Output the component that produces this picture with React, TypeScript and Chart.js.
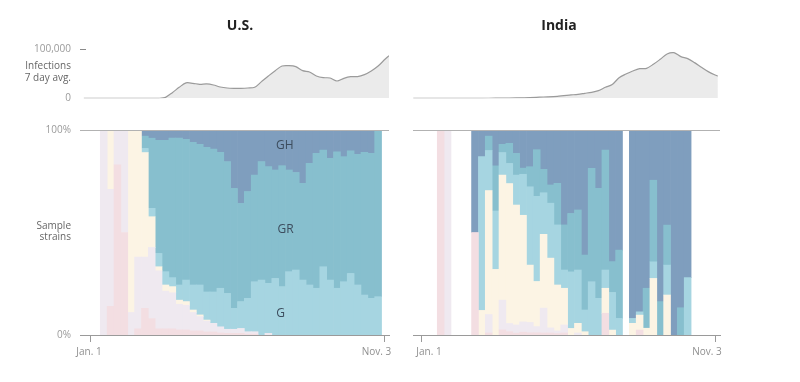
import React, { useEffect, useRef } from "react";
import { Chart, registerables } from "chart.js";

Chart.register(...registerables);

const FONT = "'Open Sans', 'DejaVu Sans', sans-serif";

// ---------- strain (clade) data: weekly share of samples, % ----------
const CLADES = ["S", "L", "V", "G", "GR", "GH"];
const CLADE_COLORS = ["#f3dee2", "#efe9f0", "#fcf4e4", "#a6d5e1", "#87bfce", "#7f9ebe"];

const US_WEEKS = [2, 3, 4, 5, 6, 7, 8, 9, 10, 11, 12, 13, 14, 15, 16, 17, 18, 19, 20, 21, 22, 23, 24, 25, 26, 27, 28, 29, 30, 31, 32, 33, 34, 35, 36, 37, 38, 39, 40, 41, 42];
const US_S = [0, 14, 83, 50, 0, 3, 13, 8, 3, 3, 3, 2.5, 2.5, 2, 2, 1.5, 1.5, 1, 0.8, 0.8, 0.8, 0.4, 0.4, 0, 0, 0, 0, 0, 0, 0, 0, 0, 0, 0, 0, 0, 0, 0, 0, 0, 0];
const US_L = [100, 57, 17, 50, 11, 35, 25, 34.7, 28.3, 18.4, 17.6, 12.5, 12, 9, 7, 5.3, 4.2, 3, 2, 2, 2.4, 1.2, 1.2, 0, 0.8, 0, 0, 0, 0, 0, 0, 0, 0, 0, 0, 0, 0, 0, 0, 0, 0];
const US_V = [0, 29, 0, 0, 89, 62, 51, 15, 2, 3, 3, 2, 1.8, 1.2, 0.8, 0.5, 0, 0, 0, 0, 0, 0, 0, 0, 0, 0, 0, 0, 0, 0, 0, 0, 0, 0, 0, 0, 0, 0, 0, 0, 0];
const US_G = [0, 0, 0, 0, 0, 0, 2, 4.1, 6.5, 6.5, 4.4, 7.4, 10.5, 12.2, 14.6, 13.7, 15.3, 18.8, 17.5, 10.2, 13.1, 16.3, 24.4, 26.8, 24.4, 27.6, 23.6, 30.9, 31.7, 26.8, 24.4, 22.8, 33.3, 26.8, 22.8, 26, 30, 24.4, 19.5, 17.9, 18.7];
const US_GR = [0, 0, 0, 0, 0, 0, 6, 34.2, 55.2, 64.1, 68, 71.6, 68.7, 69.6, 68.6, 70.5, 69.7, 66.3, 64.3, 58.5, 47.9, 52.1, 52, 57.8, 56.9, 52.9, 59, 49.6, 47.6, 47.2, 59.3, 65.8, 56.9, 59.4, 66.6, 61, 59.8, 63.7, 69.6, 70.7, 81.3];
const US_GH = [0, 0, 0, 0, 0, 0, 3, 4, 5, 5, 4, 4, 4.5, 6, 7, 8.5, 9.3, 10.9, 15.4, 28.5, 35.8, 30, 22, 15.4, 17.9, 19.5, 17.4, 19.5, 20.7, 26, 16.3, 11.4, 9.8, 13.8, 10.6, 13, 10.2, 11.9, 10.9, 11.4, 0];

const IN_WEEKS = [3, 4, 5, 6, 7, 8, 9, 10, 11, 12, 13, 14, 15, 16, 17, 18, 19, 20, 21, 22, 23, 24, 25, 26, 27, 28, 29, 30, 31, 32, 33, 34, 35, 36, 37, 38, 39];
const IN_S = [100, 0, null, null, null, 50, 0, 1, 0, 2.5, 1.6, 0.9, 1.4, 1.1, 1.1, 1, 1, 0.7, 1, 0, 0, 0, 0, 0, 10.6, 0, 0, null, 0, 2.4, 0, 0, 0, 0, 0, 0, 0];
const IN_L = [0, 100, null, null, null, 0, 0, 9, 0, 14.5, 4, 4, 5, 5, 3, 12.1, 2.5, 1.3, 3.9, 0, 1, 0, 0, 0, 0, 0, 0, null, 0, 0, 0, 0, 0, 0, 0, 0, 0];
const IN_V = [0, 0, null, null, null, 0, 12, 60.5, 32, 61, 68.3, 58.5, 52, 28, 22, 36, 34, 22.4, 17.9, 3.2, 4.7, 1.6, 0, 0, 12.2, 2.4, 0, null, 5.7, 7.3, 3.3, 27.6, 0, 19.5, 0, 0, 0];
const IN_G = [0, 0, null, null, null, 0, 75, 19.5, 28.5, 11, 9.8, 14.6, 20, 38.2, 41.5, 20.3, 26.8, 29.3, 8.9, 27.6, 26, 10.6, 26, 17.9, 8.9, 18.4, 8.1, null, 2.4, 1.6, 0, 8.1, 0, 14.6, 0, 0, 28];
const IN_GR = [0, 0, null, null, null, 0, 0, 7, 22, 4, 9.8, 10.6, 3, 9.8, 22.8, 11.4, 8.9, 20.3, 22, 28.5, 29.3, 26.8, 55.3, 53.7, 58.5, 15, 33.3, null, 0, 0, 19.5, 39.8, 16.3, 19.5, 0, 13.3, 0];
const IN_GH = [0, 0, null, null, null, 50, 13, 3, 17.5, 7, 6.5, 11.4, 20, 17.9, 9.8, 18.7, 26.8, 26, 46.3, 40.7, 39, 61, 18.7, 28.5, 9.8, 64.2, 58.5, null, 91.9, 88.7, 77.2, 24.5, 83.7, 46.4, 100, 86.7, 72];

// ---------- infections, 7 day average ----------
const US_INF_WEEKS = [-0.9, 0, 1, 2, 3, 4, 5, 6, 7, 8, 9, 10, 11, 12, 13, 14, 15, 16, 17, 18, 19, 20, 21, 22, 23, 24, 25, 26, 27, 28, 29, 30, 31, 32, 33, 34, 35, 36, 37, 38, 39, 40, 41, 42, 43, 43.6];
const US_INF = [0, 0, 0, 0, 0, 0, 0, 0, 0, 0, 0, 0, 2000, 11500, 22400, 31500, 30600, 28600, 29300, 27100, 23000, 21000, 20400, 20400, 21000, 22400, 34000, 45500, 56400, 65900, 66600, 64600, 56400, 53700, 45500, 42100, 41500, 35300, 40800, 44200, 44200, 48300, 55800, 65900, 79600, 87000];
const IN_INF_WEEKS = [-1, 0, 2, 4, 6, 8, 10, 12, 14, 16, 18, 20, 22, 23, 24, 25, 26, 27, 28, 29, 30, 31, 32, 33, 34, 35, 36, 37, 38, 39, 40, 41, 42, 43, 43.4];
const IN_INF = [0, 0, 0, 0, 0, 0, 100, 300, 700, 1400, 2700, 4000, 6800, 8200, 10200, 12200, 15600, 22400, 28000, 42000, 49600, 55800, 60500, 61200, 69400, 79600, 90500, 93100, 85000, 81000, 72800, 63300, 54400, 47600, 45500];

// ---------- ticks / labels ----------
const AXIS_TICK_WEEKS = [0, 42.86];
const AXIS_TICK_LABELS = ["Jan. 1", "Nov. 3"];
const INF_TICKS = [0, 100000];
const INF_TICK_LABELS = ["0", "100,000"];
const SHARE_TICKS = [0, 100];
const SHARE_TICK_LABELS = ["0%", "100%"];
const US_CLADE_LABELS = ["GH", "GR", "G"];
const US_CLADE_LABEL_WEEKS = [28.4, 28.5, 27.8];
const US_CLADE_LABEL_PCT = [92.2, 51.2, 10.4];

const PX_PER_WEEK = 6.86;

type PanelCfg = {
  title: string;
  titleX: number;
  left: number;
  axisLeft: number;
  axisRight: number;
  jan1: number;
  jan1Week: number;
  weeks: number[];
  shares: (number | null)[][];
  infWeeks: number[];
  inf: number[];
  showY: boolean;
  tickLabelPx: number[];
  cladeLabels: boolean;
};

const PANELS: PanelCfg[] = [
  {
    title: "U.S.", titleX: 240, left: 0, axisLeft: 80, axisRight: 389, jan1: 90, jan1Week: 0,
    weeks: US_WEEKS, shares: [US_S, US_L, US_V, US_G, US_GR, US_GH],
    infWeeks: US_INF_WEEKS, inf: US_INF, showY: true, tickLabelPx: [89, 376.5], cladeLabels: true,
  },
  {
    title: "India", titleX: 559, left: 400, axisLeft: 413, axisRight: 720, jan1: 421.7, jan1Week: 0.23,
    weeks: IN_WEEKS, shares: [IN_S, IN_L, IN_V, IN_G, IN_GR, IN_GH],
    infWeeks: IN_INF_WEEKS, inf: IN_INF, showY: false, tickLabelPx: [429, 707], cladeLabels: false,
  },
];

const W = 400;
const TOP_H = 110;
const BOT_H = 272;

function xRange(p: PanelCfg) {
  const min = p.jan1Week - (p.jan1 - p.axisLeft) / PX_PER_WEEK;
  const max = p.jan1Week + (p.axisRight - p.jan1) / PX_PER_WEEK;
  return [min, max];
}

function yAxis(p: PanelCfg, ticks: number[], labels: string[], extra: any) {
  const localL = p.axisLeft - p.left;
  const base: any = {
    ...extra,
    display: p.showY,
    afterBuildTicks: (s: any) => { s.ticks = ticks.map((v) => ({ value: v })); },
    ticks: {
      padding: 9,
      color: "#9a9a9a",
      font: { family: FONT, size: 10 },
      callback: (v: any) => labels[ticks.indexOf(Number(v))] ?? "",
    },
    grid: { display: false, drawTicks: false },
    border: { display: false },
  };
  if (p.showY) {
    base.afterFit = (s: any) => {
      s.width = localL;
      s.paddingTop = 0;
      s.paddingBottom = 0;
    };
  }
  return base;
}

function topConfig(p: PanelCfg): any {
  const [xMin, xMax] = xRange(p);
  const localL = p.axisLeft - p.left;
  const localR = p.left + W - p.axisRight;
  const decor = {
    id: "topDecor",
    afterDraw(chart: any) {
      const { ctx, chartArea: a, scales } = chart;
      ctx.save();
      ctx.font = `bold 14px ${FONT}`;
      ctx.fillStyle = "#222";
      ctx.textAlign = "center";
      ctx.textBaseline = "middle";
      ctx.fillText(p.title, p.titleX - p.left, 26);
      if (p.showY) {
        const y100 = Math.round(scales.y.getPixelForValue(100000)) + 0.5;
        ctx.strokeStyle = "#8a8a8a";
        ctx.lineWidth = 1;
        ctx.beginPath();
        ctx.moveTo(a.left, y100);
        ctx.lineTo(a.left + 6, y100);
        ctx.stroke();
        ctx.font = `10px ${FONT}`;
        ctx.fillStyle = "#666";
        ctx.textAlign = "right";
        ctx.fillText("Infections", 71, 66);
        ctx.fillText("7 day avg.", 71, 78);
      }
      ctx.restore();
    },
  };
  return {
    type: "line",
    data: {
      datasets: [
        {
          data: p.infWeeks.map((w, i) => ({ x: w, y: p.inf[i] })),
          borderColor: "#9b9b9b",
          borderWidth: 1.2,
          backgroundColor: "#ebebeb",
          fill: "origin",
          pointRadius: 0,
          tension: 0.3,
        },
      ],
    },
    options: {
      responsive: false,
      animation: false,
      events: [],
      layout: { padding: { left: p.showY ? 0 : localL, right: localR, top: 49.3, bottom: TOP_H - 98.3 } },
      scales: {
        x: { type: "linear", min: xMin, max: xMax, display: false },
        y: yAxis(p, INF_TICKS, INF_TICK_LABELS, { type: "linear", min: 0, max: 100000 }),
      },
      plugins: { legend: { display: false }, tooltip: { enabled: false } },
    },
    plugins: [decor],
  };
}

function bottomConfig(p: PanelCfg): any {
  const [xMin, xMax] = xRange(p);
  const localL = p.axisLeft - p.left;
  const localR = p.left + W - p.axisRight;
  const top = 130 - TOP_H;
  const bottom = 335 - TOP_H;
  const tickLen = 7;
  const decor = {
    id: "botDecor",
    afterDraw(chart: any) {
      const { ctx, chartArea: a, scales } = chart;
      ctx.save();
      const yt = Math.round(scales.y.getPixelForValue(100)) + 0.5;
      ctx.strokeStyle = "#b2b2b2";
      ctx.lineWidth = 1;
      ctx.beginPath();
      ctx.moveTo(a.left, yt);
      ctx.lineTo(a.right, yt);
      ctx.stroke();
      ctx.font = `10px ${FONT}`;
      ctx.fillStyle = "#8f8f8f";
      ctx.textAlign = "center";
      ctx.textBaseline = "middle";
      AXIS_TICK_LABELS.forEach((t, i) => ctx.fillText(t, p.tickLabelPx[i] - p.left, a.bottom + 17));
      if (p.showY) {
        ctx.fillStyle = "#666";
        ctx.textAlign = "right";
        ctx.fillText("Sample", 71, 226 - TOP_H);
        ctx.fillText("strains", 71, 237 - TOP_H);
      }
      if (p.cladeLabels) {
        ctx.fillStyle = "#3c4c5d";
        ctx.font = `12px ${FONT}`;
        ctx.textAlign = "center";
        US_CLADE_LABELS.forEach((t, i) =>
          ctx.fillText(t, scales.x.getPixelForValue(US_CLADE_LABEL_WEEKS[i]), scales.y.getPixelForValue(US_CLADE_LABEL_PCT[i]))
        );
      }
      ctx.restore();
    },
  };
  const datasets = CLADES.map((c, ci) => ({
    type: "bar",
    label: c,
    data: p.weeks
      .map((w, i) => ({ x: w, y: p.shares[ci][i] }))
      .filter((d) => d.y !== null && (d.y as number) > 0),
    backgroundColor: CLADE_COLORS[ci],
    borderWidth: 0,
    barPercentage: 1,
    categoryPercentage: 1,
  }));
  return {
    type: "bar",
    data: { datasets },
    options: {
      responsive: false,
      animation: false,
      events: [],
      layout: { padding: { left: p.showY ? 0 : localL, right: localR, top, bottom: BOT_H - bottom - tickLen } },
      scales: {
        x: {
          type: "linear",
          min: xMin,
          max: xMax,
          stacked: true,
          offset: false,
          z: 1,
          afterBuildTicks: (s: any) => { s.ticks = AXIS_TICK_WEEKS.map((w) => ({ value: w + p.jan1Week })); },
          ticks: { display: false },
          grid: { display: true, offset: false, drawOnChartArea: false, drawTicks: true, tickLength: tickLen, color: "#9a9a9a", lineWidth: 1 },
          border: { display: true, color: "#9a9a9a", width: 1 },
        },
        y: yAxis(p, SHARE_TICKS, SHARE_TICK_LABELS, { type: "linear", min: 0, max: 100, stacked: true }),
      },
      plugins: { legend: { display: false }, tooltip: { enabled: false } },
    },
    plugins: [decor],
  };
}

function Panel({ cfg }: { cfg: PanelCfg }) {
  const topRef = useRef<HTMLCanvasElement>(null);
  const botRef = useRef<HTMLCanvasElement>(null);
  useEffect(() => {
    const t = new Chart(topRef.current as HTMLCanvasElement, topConfig(cfg));
    const b = new Chart(botRef.current as HTMLCanvasElement, bottomConfig(cfg));
    return () => {
      t.destroy();
      b.destroy();
    };
  }, [cfg]);
  return (
    <>
      <canvas
        ref={topRef}
        width={W}
        height={TOP_H}
        style={{ position: "absolute", left: cfg.left, top: 0, width: W, height: TOP_H }}
      />
      <canvas
        ref={botRef}
        width={W}
        height={BOT_H}
        style={{ position: "absolute", left: cfg.left, top: TOP_H, width: W, height: BOT_H }}
      />
    </>
  );
}

export default function App() {
  return (
    <div style={{ position: "absolute", left: 0, top: 0, width: 800, height: 382, background: "#fff", overflow: "hidden" }}>
      {PANELS.map((p) => (
        <Panel key={p.title} cfg={p} />
      ))}
    </div>
  );
}
